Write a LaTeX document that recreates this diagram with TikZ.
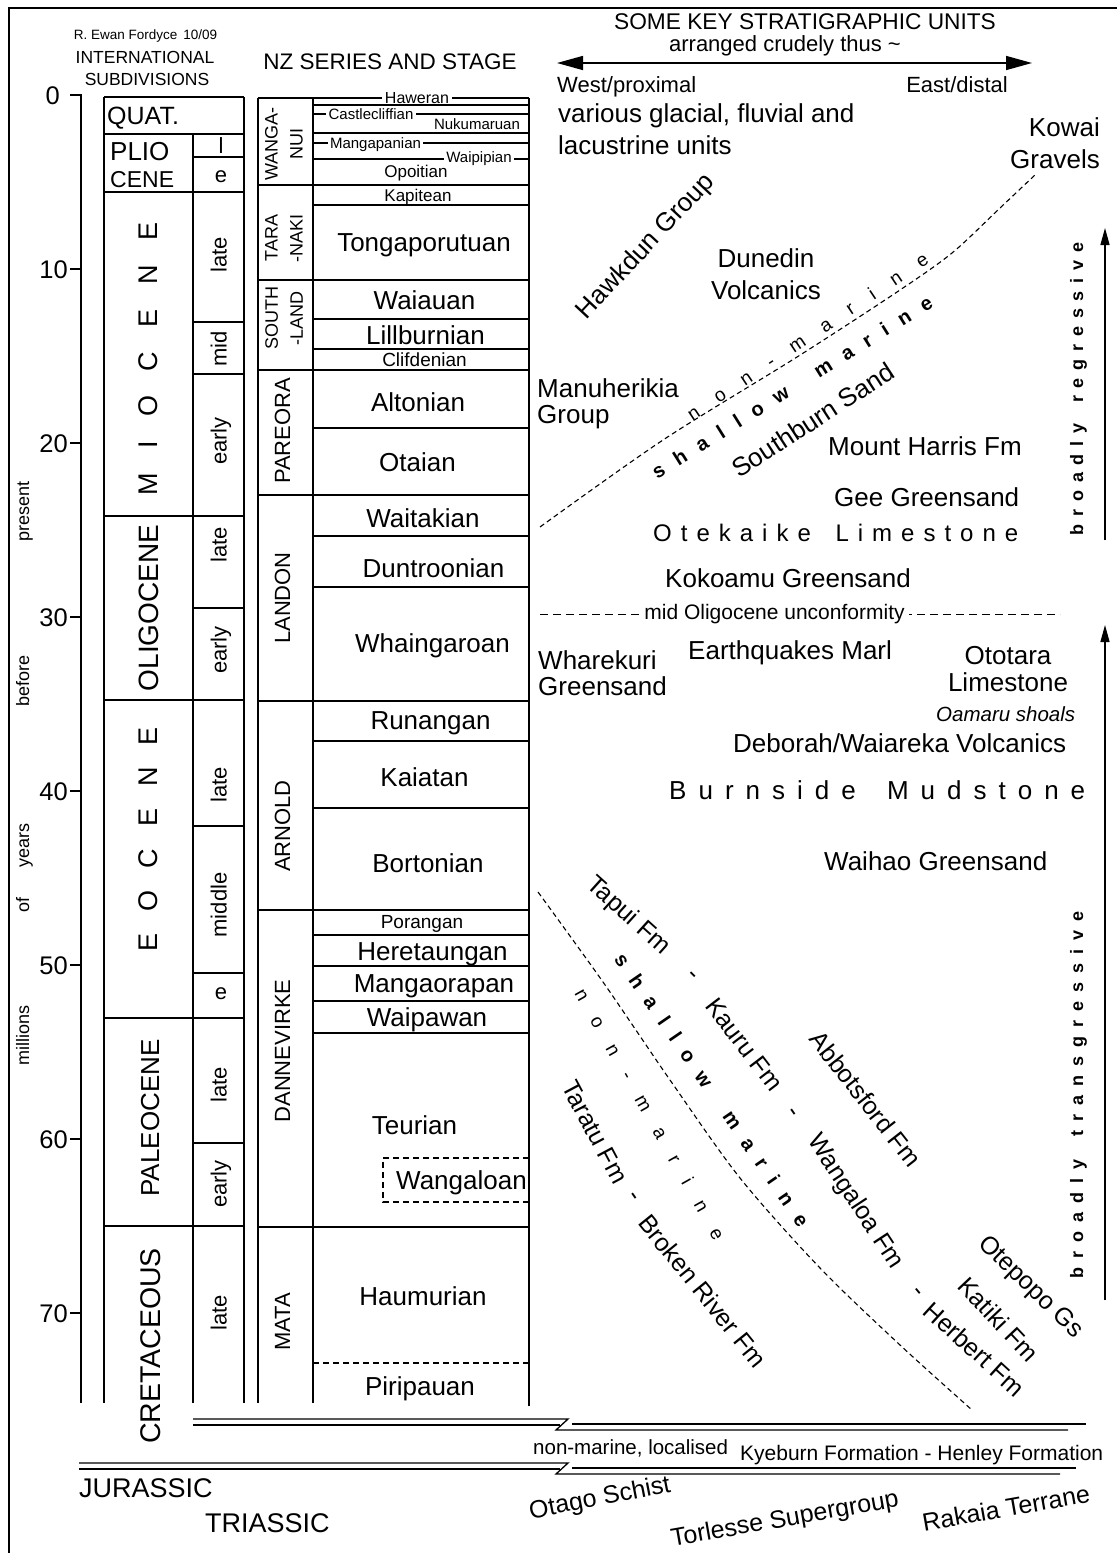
\documentclass[tikz,border=0pt]{standalone}
\usepackage{fontspec}
\setmainfont{Liberation Sans}
\usetikzlibrary{arrows.meta}
\newcommand\fsz[1]{\fontsize{#1}{#1}\selectfont}
\makeatletter
\newcommand\spc[2]{\def\spc@gap{#1}\spc@loop#2\@nil}
\def\spc@loop#1#2\@nil{#1\ifx\relax#2\relax\else\hskip\spc@gap\relax\spc@loop#2\@nil\fi}
\makeatother
\begin{document}
\begin{tikzpicture}[x=1pt,y=-1pt,
  box/.style={line width=1.6pt},
  tx/.style={inner sep=0pt},
  rt/.style={inner sep=0pt,font=\fsz{26}},
  st/.style={inner sep=0pt,font=\fsz{26},anchor=base},
  sub/.style={inner sep=0pt,font=\fsz{22},rotate=90,anchor=base},
  ser/.style={inner sep=0pt,font=\fsz{22},rotate=90,anchor=base},
  brk/.style={inner sep=0pt,inner xsep=2.5pt,fill=white,font=\fsz{15}},
  rot/.style={inner sep=0pt,font=\fsz{25}},
  dsh/.style={line width=1.1pt,dash pattern=on 5pt off 3.5pt},
  big/.style={line width=1.5pt,{Triangle[length=26pt,width=14pt]}-{Triangle[length=26pt,width=14pt]}},
  up/.style={line width=1.3pt,-{Triangle[length=17pt,width=9pt]}},
  uncf/.style={line width=1.3pt}
]
\useasboundingbox (0,0) rectangle (1117,1553);
% frame
\draw[line width=2pt] (9,1553) -- (9,8) -- (1117,8);
% headers
\node[tx,font=\fsz{13.5},anchor=base] (author) at (145.5,39) {R. Ewan Fordyce\hspace{6pt}10/09};
\node[tx,font=\fsz{17.5},anchor=base] (intl1) at (145,63) {INTERNATIONAL};
\node[tx,font=\fsz{17.5},anchor=base] (intl2) at (147,85) {SUBDIVISIONS};
\node[tx,font=\fsz{22.5},anchor=base] (nzhead) at (390,69) {NZ SERIES AND STAGE};
% axis
\draw[box] (70,95) -- (81,95) -- (81,1403);
\node[tx,font=\fsz{25.5},anchor=base east] (ax0) at (60,104) {0};
\foreach \t/\y in {10/269,20/443,30/617,40/791,50/965,60/1139,70/1313}{
  \draw[box] (70,\y) -- (81,\y);
  \node[tx,font=\fsz{25.5},anchor=base east] (ax\t) at (68,\y+9) {\t};}
\node[tx,font=\fsz{18},rotate=90,anchor=base] (wpresent) at (29,511) {present};
\node[tx,font=\fsz{18},rotate=90,anchor=base] (wbefore) at (29,681) {before};
\node[tx,font=\fsz{18},rotate=90,anchor=base] (wyears) at (29,845) {years};
\node[tx,font=\fsz{18},rotate=90,anchor=base] (wof) at (29,905) {of};
\node[tx,font=\fsz{18},rotate=90,anchor=base] (wmillions) at (29,1035) {millions};
% international column
\draw[box] (104,97) -- (244,97);
\draw[box] (104,97) -- (104,1403);
\draw[box] (244,97) -- (244,1403);
\draw[box] (193,134) -- (193,1403);
\foreach \y in {134,192,516,700,1018,1226} \draw[box] (104,\y) -- (244,\y);
\foreach \y in {157,322,374,608,826,973,1143} \draw[box] (193,\y) -- (244,\y);
\node[tx,font=\fsz{25},anchor=base west] (quat) at (107,124) {QUAT.};
\node[tx,font=\fsz{26},anchor=base west] (plio) at (110,160.4) {PLIO};
\node[tx,font=\fsz{23},anchor=base west] (cene) at (110,187.3) {CENE};
\node[tx,font=\fsz{22},anchor=base] (plil) at (221,153.4) {l};
\node[tx,font=\fsz{22},anchor=base] (plie) at (221,182) {e};
\node[tx,font=\fsz{27},rotate=90,anchor=base] (mio) at (157,359) {\spc{24.5pt}{MIOCENE}};
\node[tx,font=\fsz{28},rotate=90,anchor=base] (oli) at (158,608) {OLIGOCENE};
\node[tx,font=\fsz{27},rotate=90,anchor=base] (eoc) at (157,839) {\spc{22pt}{EOCENE}};
\node[tx,font=\fsz{26},rotate=90,anchor=base] (pal) at (159,1118) {PALEOCENE};
\node[tx,font=\fsz{28.5},rotate=90,anchor=base] (cre) at (160,1346) {CRETACEOUS};
\node[sub] (miolate) at (226.5,255) {late};
\node[sub] (miomid) at (226.5,349) {mid};
\node[sub] (mioearly) at (226.5,441) {early};
\node[sub] (olilate) at (226.5,545) {late};
\node[sub] (oliearly) at (226.5,650) {early};
\node[sub] (eoclate) at (226.5,785) {late};
\node[sub] (eocmid) at (226.5,905) {middle};
\node[tx,font=\fsz{22},anchor=base] (eoce) at (221,999) {e};
\node[sub] (pallate) at (226.5,1085) {late};
\node[sub] (palearly) at (226.5,1184) {early};
\node[sub] (crelate) at (226.5,1313) {late};
% NZ series column
\draw[box] (258,98) -- (313,98);
\draw[box] (258,98) -- (258,1403);
\draw[box] (313,98) -- (313,1403);
\draw[box] (529,98) -- (529,1406);
\foreach \y in {185,280,370,495,701,910,1227} \draw[box] (258,\y) -- (529,\y);
\foreach \y in {98,105,114,133,143,159,205,319,349,428,536,587,741,808,935,966,1001,1033} \draw[box] (313,\y) -- (529,\y);
\draw[box,dash pattern=on 6pt off 4pt] (313,1363) -- (529,1363);
\node[tx,font=\fontsize{18}{25}\selectfont,rotate=90,align=center] (wanganui) at (284,144) {WANGA-\\NUI};
\node[tx,font=\fontsize{18}{25}\selectfont,rotate=90,align=center] (taranaki) at (284,238) {TARA\\-NAKI};
\node[tx,font=\fontsize{18}{25}\selectfont,rotate=90,align=center] (southland) at (284,318) {SOUTH\\-LAND};
\node[ser] (pareora) at (290,431) {PAREORA};
\node[ser] (landon) at (290,598) {LANDON};
\node[ser] (arnold) at (290,826) {ARNOLD};
\node[ser] (dannevirke) at (290,1051) {DANNEVIRKE};
\node[ser] (mata) at (290,1322) {MATA};
% stages
\node[brk,font=\fsz{16}] (haweran) at (417,98) {Haweran};
\node[brk] (castle) at (371,114) {Castlecliffian};
\node[tx,font=\fsz{15},anchor=base] (nukum) at (477,129.4) {Nukumaruan};
\node[brk,anchor=base] (mangap) at (375.5,148.4) {Mangapanian};
\node[brk,anchor=base] (waipip) at (479,162.4) {Waipipian};
\node[tx,font=\fsz{17},anchor=base] (opoit) at (416,177.8) {Opoitian};
\node[tx,font=\fsz{17},anchor=base] (kapit) at (418,201) {Kapitean};
\node[st] (tonga) at (424,251.4) {Tongaporutuan};
\node[st] (waiau) at (424.5,309.4) {Waiauan};
\node[st] (lillb) at (425.5,344.4) {Lillburnian};
\node[tx,font=\fsz{19},anchor=base] (clifd) at (424.5,366.3) {Clifdenian};
\node[st] (alton) at (418,411) {Altonian};
\node[st] (otaia) at (417.5,471) {Otaian};
\node[st] (waita) at (423,527.4) {Waitakian};
\node[st] (duntr) at (433.5,577.4) {Duntroonian};
\node[st] (whain) at (432.5,652.4) {Whaingaroan};
\node[st] (runan) at (430.5,729.4) {Runangan};
\node[st] (kaiat) at (424.5,786.4) {Kaiatan};
\node[st] (borto) at (428,872.4) {Bortonian};
\node[tx,font=\fsz{19},anchor=base] (poran) at (422,928.8) {Porangan};
\node[st] (heret) at (432.5,960.4) {Heretaungan};
\node[st] (mango) at (434,992.4) {Mangaorapan};
\node[st] (waipa) at (427,1026.4) {Waipawan};
\node[st] (teuri) at (414.5,1134.4) {Teurian};
\draw[line width=1.3pt,dash pattern=on 6pt off 4pt] (529,1158) -- (383,1158) -- (383,1202) -- (529,1202);
\node[st,anchor=base west] (wanga) at (396,1189.4) {Wangaloan};
\node[st] (haumu) at (423,1305.4) {Haumurian};
\node[st] (piri) at (420,1395.4) {Piripauan};
% right side header
\node[tx,font=\fsz{22.7},anchor=base] (somekey) at (805,29) {SOME KEY STRATIGRAPHIC UNITS};
\node[tx,font=\fsz{22},anchor=base] (arranged) at (785,51) {arranged crudely thus \textasciitilde};
\coordinate (arL) at (557,63);
\coordinate (arR) at (1032,63);
\draw[big] (arL) -- (arR);
\node[tx,font=\fsz{22},anchor=base west] (west) at (557,92) {West/proximal};
\node[tx,font=\fsz{22},anchor=base east] (east) at (1008,92) {East/distal};
% right side units
\node[rt,anchor=base west] (various) at (558,122) {various glacial, fluvial and};
\node[rt,anchor=base west] (lacus) at (558,154) {lacustrine units};
\node[rt,anchor=base east] (kowai) at (1100,136) {Kowai};
\node[rt,anchor=base east] (gravels) at (1100,168) {Gravels};
\node[rt,rotate=47] (hawkdun) at (646,247) {Hawkdun Group};
\node[rt,anchor=base] (dunedin) at (766,267) {Dunedin};
\node[rt,anchor=base] (volcan) at (766,299) {Volcanics};
\node[rt,anchor=base west] (manuh) at (537,397) {Manuherikia};
\node[rt,anchor=base west] (manug) at (537,423) {Group};
\node[rt,rotate=33] (southburn) at (813,420) {Southburn Sand};
\node[rt,anchor=base west] (mtharris) at (828,455) {Mount Harris Fm};
\node[rt,anchor=base west] (gee) at (834,506) {Gee Greensand};
\node[tx,font=\fsz{24},anchor=base west] (otek) at (653,541.6) {\spc{9pt}{Otekaike~Limestone}};
\node[rt,anchor=base west] (kokoamu) at (665,587) {Kokoamu Greensand};
\coordinate (ucL) at (540,614);
\coordinate (ucR) at (1060,614);
\draw[line width=1pt,dash pattern=on 8pt off 5pt] (ucL) -- (ucR);
\node[tx,fill=white,inner xsep=4pt,inner ysep=1pt,font=\fsz{21}] (midoli) at (774.5,614) {mid Oligocene unconformity};
\node[rt,anchor=base west] (wharek) at (538,669) {Wharekuri};
\node[rt,anchor=base west] (wharegs) at (538,695) {Greensand};
\node[rt,anchor=base west] (earthq) at (688,659) {Earthquakes Marl};
\node[rt,anchor=base] (ototara) at (1008,664) {Ototara};
\node[rt,anchor=base] (ototlst) at (1008,691) {Limestone};
\node[tx,font=\fsz{20.5}\itshape,anchor=base west] (oamaru) at (936,721) {Oamaru shoals};
\node[rt,anchor=base west] (deborah) at (733,752) {Deborah/Waiareka Volcanics};
\node[rt,anchor=base west] (burnside) at (669,799) {\spc{12pt}{Burnside~Mudstone}};
\node[rt,anchor=base west] (waihao) at (824,870) {Waihao Greensand};
% upper facies boundary
\draw[dsh] plot[smooth] coordinates {(540,527) (663,440) (797,357) (897,292) (952,253) (1000,208) (1036,174)};
\node[tx,font=\fsz{19},rotate=33.7] (nonmar1) at (807.5,336.5) {\spc{21pt}{non-marine}};
\node[tx,font=\fsz{20}\bfseries,rotate=32] (shal1) at (792,387) {\spc{14pt}{shallow~marine}};
% lower facies boundary
\draw[dsh] plot[smooth] coordinates {(538,892) (603,982) (670,1080) (740,1178) (820,1268) (900,1345) (972,1410)};
\node[tx,font=\fsz{20}\bfseries,rotate=-55.5] (shal2) at (712,1090) {\spc{14pt}{shallow~marine}};
\node[tx,font=\fsz{19},rotate=-60.6] (nonmar2) at (650,1114) {\spc{21pt}{non-marine}};
\node[rot,rotate=-42] (tapui) at (628,916) {Tapui Fm};
\node[rot,rotate=-45] (d1) at (690.7,976.8) {-};
\node[rot,rotate=-52.6] (kauru) at (744.3,1044.5) {Kauru Fm};
\node[rot,rotate=-55] (d2) at (790.7,1114) {-};
\node[rot,rotate=-56.7] (wangaloa) at (855,1202) {Wangaloa Fm};
\node[rot,rotate=-50] (d3) at (915.7,1293) {-};
\node[rot,rotate=-42.4] (herbert) at (974.5,1349) {Herbert Fm};
\node[rot,rotate=-52] (abbots) at (865.7,1099) {Abbotsford Fm};
\node[rot,rotate=-44] (otepopo) at (1030,1287.5) {Otepopo Gs};
\node[rot,rotate=-46.7] (katiki) at (998.7,1319.5) {Katiki Fm};
\node[rot,rotate=-62] (taratu) at (595,1132) {Taratu Fm};
\node[rot,rotate=-55] (d4) at (632,1198) {-};
\node[rot,rotate=-51] (broken) at (703,1291) {Broken River Fm};
% trend arrows
\coordinate (rgB) at (1105,540);
\coordinate (rgT) at (1105,228);
\draw[up] (rgB) -- (rgT);
\node[tx,font=\fsz{18}\bfseries,rotate=90,anchor=base] (regr) at (1083,389) {\spc{7.8pt}{broadly~regressive}};
\coordinate (trB) at (1105,1300);
\coordinate (trT) at (1105,625);
\draw[up] (trB) -- (trT);
\node[tx,font=\fsz{18}\bfseries,rotate=90,anchor=base] (transg) at (1083,1095) {\spc{9pt}{broadly~transgressive}};
% unconformity breaks
\draw[uncf] (193,1419) -- (568,1419) -- (556,1430) -- (1068,1430);
\draw[uncf] (193,1425) -- (560,1425);
\draw[uncf] (572,1424) -- (1086,1424);
\draw[uncf] (79,1463) -- (568,1463) -- (556,1474) -- (1060,1474);
\draw[uncf] (79,1469) -- (560,1469);
\draw[uncf] (572,1468) -- (1076,1468);
\node[tx,font=\fsz{20.5},anchor=base west] (nonmloc) at (533,1454) {non-marine, localised};
\node[tx,font=\fsz{21},anchor=base west] (kyeburn) at (740,1460.6) {Kyeburn Formation - Henley Formation};
\node[tx,font=\fsz{27},anchor=base west] (jurassic) at (79,1497.7) {JURASSIC};
\node[tx,font=\fsz{27},anchor=base west] (triassic) at (205,1532.7) {TRIASSIC};
\node[rot,rotate=11] (otago) at (600,1499) {Otago Schist};
\node[rot,rotate=10] (torlesse) at (785,1520) {Torlesse Supergroup};
\node[rot,rotate=10] (rakaia) at (1006,1508) {Rakaia Terrane};
\end{tikzpicture}
\end{document}
